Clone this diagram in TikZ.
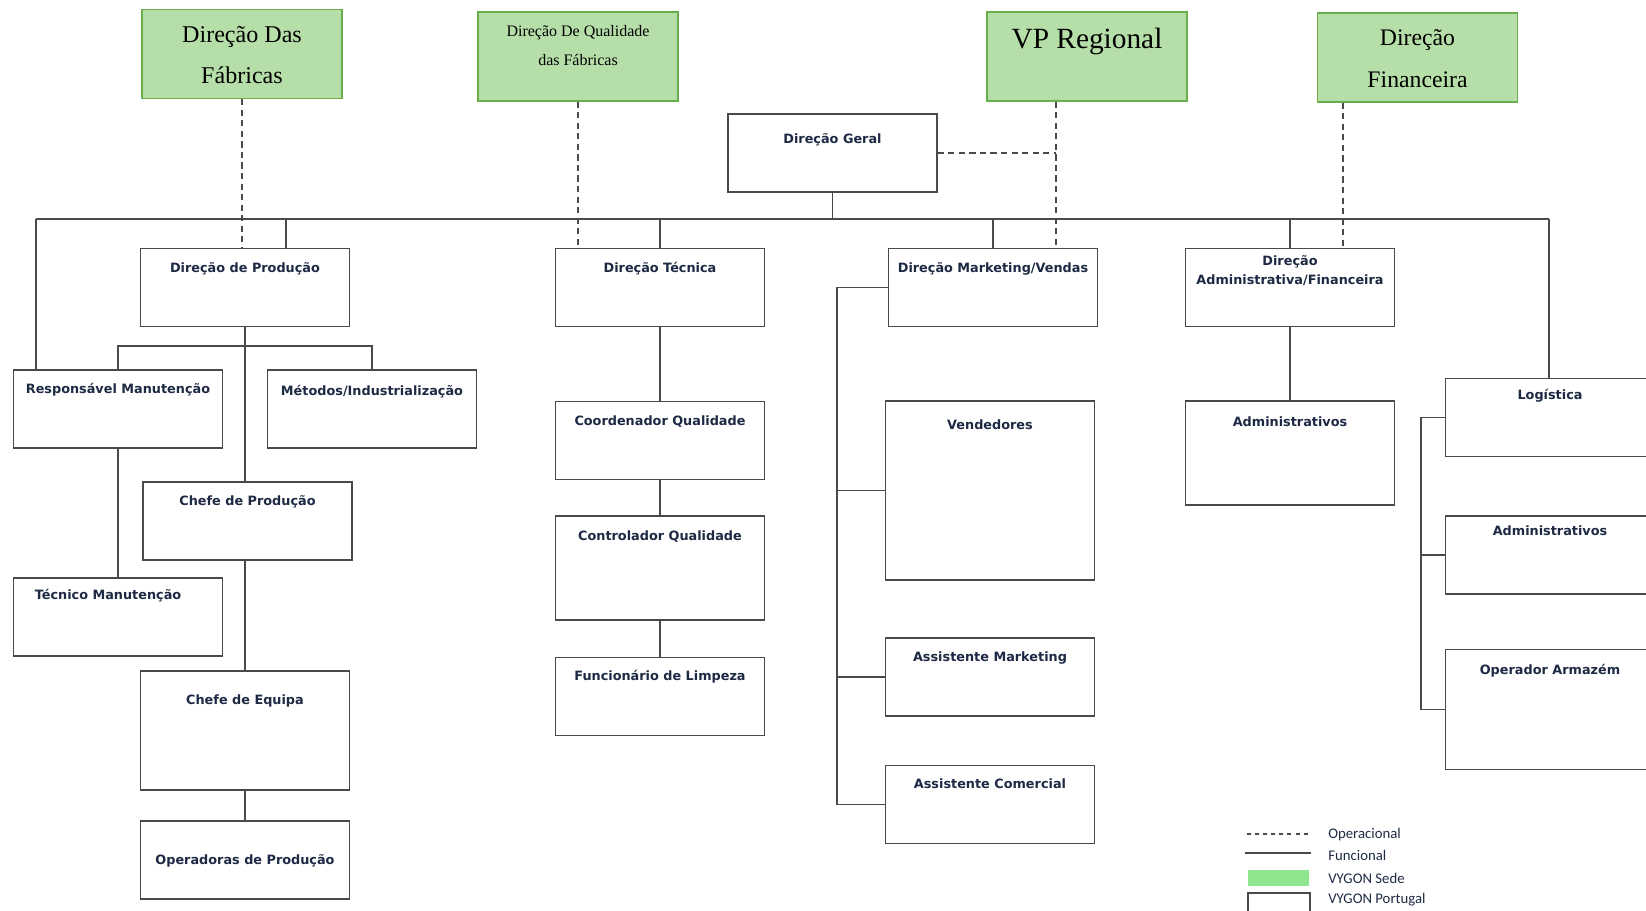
\documentclass[tikz,border=0pt]{standalone}
\usepackage{fontspec}
\setmainfont{Liberation Serif}
\newfontfamily\boxfont{DejaVu Sans}
\newfontfamily\legfont{Carlito}
\usetikzlibrary{positioning}
\definecolor{sede}{HTML}{B6DEA8}
\definecolor{sedeline}{HTML}{6AAE4C}
\definecolor{legsede}{HTML}{8EE68E}
\definecolor{ink}{HTML}{1E2A44}
\definecolor{rule}{HTML}{4A4A4A}

\begin{document}
\begin{tikzpicture}[x=0.02cm,y=-0.02cm,
    unit/.style={draw=rule,line width=0.9pt,fill=white,minimum width=4.18cm,minimum height=1.56cm,inner sep=0pt},
    hq/.style={draw=sedeline,line width=0.8pt,fill=sede,minimum width=4cm,minimum height=1.78cm,inner sep=0pt},
    ttl/.style={anchor=center,font=\boxfont\bfseries\fontsize{7.3}{10.8}\selectfont,text=ink,align=center,inner sep=0pt,yshift=-0.04cm},
    hqttl/.style={anchor=center,align=center,inner sep=0pt,text=black},
    fn/.style={draw=rule,line width=0.9pt},
    op/.style={draw=rule,line width=1pt,dash pattern=on 3.5pt off 2.5pt},
    leg/.style={anchor=west,font=\legfont\fontsize{8.4}{10}\selectfont,text=ink,inner sep=0pt}]
  \useasboundingbox (0,0) rectangle (1646,910);
  \clip (0,0) rectangle (1646,910);

  % sede
  \node[hq,label={[hqttl,yshift=-0.93cm,font=\fontsize{13.7}{23.2}\selectfont]north:Direção Das\\Fábricas}] (fab) at (242,54) {};
  \node[hq,label={[hqttl,yshift=-0.69cm,font=\fontsize{9.1}{16.4}\selectfont]north:Direção De Qualidade\\das Fábricas}] (qual) at (578,56.5) {};
  \node[hq,label={[hqttl,yshift=-0.6cm,font=\fontsize{16.7}{20}\selectfont]north:VP Regional}] (vp) at (1087,56.5) {};
  \node[hq,label={[hqttl,yshift=-0.92cm,font=\fontsize{13.5}{23.8}\selectfont]north:Direção\\Financeira}] (fin) at (1417.5,57.5) {};

  % portugal
  \node[unit,label={[ttl,yshift=-0.5cm]north:Direção Geral}] (geral) at (832.5,153) {};
  \node[unit,label={[ttl,yshift=-0.38cm]north:Direção de Produção}] (prod) at (245,287.5) {};
  \node[unit,label={[ttl,yshift=-0.38cm]north:Direção Técnica}] (tec) at (660,287.5) {};
  \node[unit,label={[ttl,yshift=-0.38cm]north:Direção Marketing/Vendas}] (mkt) at (993,287.5) {};
  \node[unit,label={[ttl,yshift=-0.41cm]north:Direção\\Administrativa/Financeira}] (adm) at (1290,287.5) {};

  \node[unit,label={[ttl,yshift=-0.36cm]north:Responsável Manutenção}] (resp) at (118,409) {};
  \node[unit,label={[ttl,yshift=-0.4cm]north:Métodos/Industrialização}] (met) at (372,409) {};
  \node[unit,label={[ttl,yshift=-0.38cm]north:Chefe de Produção}] (chefep) at (247.5,521) {};
  \node[unit,label={[ttl,yshift=-0.32cm,xshift=-0.2cm]north:Técnico Manutenção}] (tecman) at (118,617) {};
  \node[unit,minimum height=2.38cm,label={[ttl,yshift=-0.58cm]north:Chefe de Equipa}] (chefeq) at (245,730.5) {};
  \node[unit,label={[ttl,yshift=-0.78cm]north:Operadoras de Produção}] (oper) at (245,860) {};

  \node[unit,label={[ttl,yshift=-0.38cm]north:Coordenador Qualidade}] (coord) at (660,440.5) {};
  \node[unit,minimum height=2.08cm,label={[ttl,yshift=-0.38cm]north:Controlador Qualidade}] (ctrl) at (660,568) {};
  \node[unit,label={[ttl,yshift=-0.36cm]north:Funcionário de Limpeza}] (limp) at (660,696.5) {};

  \node[unit,minimum height=3.58cm,label={[ttl,yshift=-0.44cm]north:Vendedores}] (vend) at (990,490.5) {};
  \node[unit,label={[ttl,yshift=-0.38cm]north:Assistente Marketing}] (amkt) at (990,677) {};
  \node[unit,label={[ttl,yshift=-0.34cm]north:Assistente Comercial}] (acom) at (990,804.5) {};

  \node[unit,minimum height=2.08cm,label={[ttl,yshift=-0.38cm]north:Administrativos}] (admv) at (1290,453) {};

  \node[unit,label={[ttl,yshift=-0.32cm]north:Logística}] (log) at (1550,417.5) {};
  \node[unit,label={[ttl,yshift=-0.26cm]north:Administrativos}] (adm2) at (1550,555) {};
  \node[unit,minimum height=2.4cm,label={[ttl,yshift=-0.4cm]north:Operador Armazém}] (arm) at (1550,709.5) {};

  % funcional
  \coordinate (busL) at (36,219);
  \coordinate (busR) at (1549,219);
  \coordinate (prodtap) at (286,219);
  \draw[fn] (busL) -- (busR);
  \draw[fn] (geral.south) -- (geral.south |- busL);
  \draw[fn] (prodtap) -- (prodtap |- prod.north);
  \draw[fn] (tec.north |- busL) -- (tec.north);
  \draw[fn] (mkt.north |- busL) -- (mkt.north);
  \draw[fn] (adm.north |- busL) -- (adm.north);
  \draw[fn] (busL) -- (busL |- resp.north);
  \draw[fn] (busR) -- (busR |- log.north);

  \draw[fn] (prod.south) -- (prod.south |- chefep.north);
  \draw[fn] (resp.north) -- ++(0,-23) -| (met.north);
  \draw[fn] (resp.south) -- (tecman.north);
  \draw[fn] (chefeq.north |- chefep.south) -- (chefeq.north);
  \draw[fn] (chefeq.south) -- (oper.north);

  \draw[fn] (tec.south) -- (coord.north);
  \draw[fn] (coord.south) -- (ctrl.north);
  \draw[fn] (ctrl.south) -- (limp.north);

  \coordinate (mktrail) at ([xshift=-1.01cm]mkt.west);
  \draw[fn] (mkt.west) -- (mktrail) |- (acom.west);
  \draw[fn] (mktrail |- vend.west) -- (vend.west);
  \draw[fn] (mktrail |- amkt.west) -- (amkt.west);

  \draw[fn] (adm.south) -- (admv.north);

  \coordinate (lograil) at ([xshift=-0.48cm]log.west);
  \draw[fn] (log.west) -- (lograil) |- (arm.west);
  \draw[fn] (lograil |- adm2.west) -- (adm2.west);

  % operacional
  \coordinate (vptap) at ([xshift=-0.62cm]vp.south);
  \coordinate (fintap) at ([xshift=-1.49cm]fin.south);
  \draw[op] (fab.south) -- (fab.south |- prod.north);
  \draw[op] (qual.south) -- (qual.south |- tec.north);
  \draw[op] (vptap) -- (vptap |- mkt.north);
  \draw[op] (geral.east) -- (geral.east -| vptap);
  \draw[op] (fintap) -- (fintap |- adm.north);

  % legenda
  \draw[op,line width=0.8pt,dash pattern=on 2.3pt off 2.3pt] (1247,834) -- (1311,834);
  \draw[fn] (1245,853) -- (1311,853);
  \fill[legsede] (1248,870) rectangle (1309,886);
  \draw[fn,fill=white] (1248,893) rectangle (1310,912);
  \node[leg] (legop) at (1328,835) {Operacional};
  \node[leg] (legfn) at (1328,855) {Funcional};
  \node[leg] (legsd) at (1328,878) {VYGON Sede};
  \node[leg] (legpt) at (1328,900) {VYGON Portugal};
\end{tikzpicture}
\end{document}
